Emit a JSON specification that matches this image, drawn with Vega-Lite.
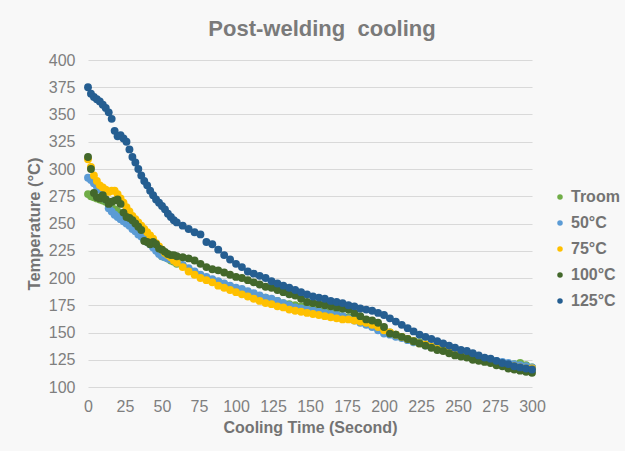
{
  "$schema": "https://vega.github.io/schema/vega-lite/v6.json",
  "width": 444,
  "height": 327,
  "autosize": {"type": "none"},
  "padding": {"left": 88, "top": 60, "right": 93, "bottom": 64},
  "background": "#f8f8f8",
  "config": {
    "font": "Liberation Sans",
    "view": {"stroke": null}
  },
  "title": {
    "text": "Post-welding\u00a0 cooling",
    "fontSize": 22,
    "fontWeight": "bold",
    "color": "#7a7a7a",
    "anchor": "middle",
    "offset": 11,
    "dx": 12
  },
  "data": {
    "values": [
      {"series":"Troom","time":0,"temp":277},{"series":"Troom","time":2,"temp":275},{"series":"Troom","time":4,"temp":274},{"series":"Troom","time":6,"temp":273},{"series":"Troom","time":8,"temp":272},{"series":"Troom","time":10,"temp":271},{"series":"Troom","time":12,"temp":270},{"series":"Troom","time":14,"temp":267},{"series":"Troom","time":16,"temp":265},{"series":"Troom","time":18,"temp":263},{"series":"Troom","time":20,"temp":261},{"series":"Troom","time":22,"temp":259},{"series":"Troom","time":24,"temp":256},{"series":"Troom","time":26,"temp":254},{"series":"Troom","time":28,"temp":252},{"series":"Troom","time":30,"temp":250},{"series":"Troom","time":32,"temp":247},{"series":"Troom","time":34,"temp":245},{"series":"Troom","time":36,"temp":242},{"series":"Troom","time":38,"temp":240},{"series":"Troom","time":40,"temp":237},{"series":"Troom","time":42,"temp":234},{"series":"Troom","time":44,"temp":231},{"series":"Troom","time":46,"temp":228},{"series":"Troom","time":48,"temp":223},{"series":"Troom","time":50,"temp":220},{"series":"Troom","time":52,"temp":219},{"series":"Troom","time":54,"temp":218},{"series":"Troom","time":56,"temp":216},{"series":"Troom","time":58,"temp":215},{"series":"Troom","time":60,"temp":213},{"series":"Troom","time":64,"temp":211},{"series":"Troom","time":68,"temp":208},{"series":"Troom","time":72,"temp":205},{"series":"Troom","time":76,"temp":202},{"series":"Troom","time":80,"temp":200},{"series":"Troom","time":84,"temp":198},{"series":"Troom","time":88,"temp":196},{"series":"Troom","time":92,"temp":194},{"series":"Troom","time":96,"temp":192},{"series":"Troom","time":100,"temp":190},{"series":"Troom","time":104,"temp":189},{"series":"Troom","time":108,"temp":187},{"series":"Troom","time":112,"temp":185},{"series":"Troom","time":116,"temp":183},{"series":"Troom","time":120,"temp":182},{"series":"Troom","time":124,"temp":180},{"series":"Troom","time":128,"temp":179},{"series":"Troom","time":132,"temp":177},{"series":"Troom","time":136,"temp":176},{"series":"Troom","time":140,"temp":175},{"series":"Troom","time":144,"temp":174},{"series":"Troom","time":148,"temp":172},{"series":"Troom","time":152,"temp":171},{"series":"Troom","time":156,"temp":170},{"series":"Troom","time":160,"temp":169},{"series":"Troom","time":164,"temp":168},{"series":"Troom","time":168,"temp":167},{"series":"Troom","time":172,"temp":165},{"series":"Troom","time":176,"temp":164},{"series":"Troom","time":180,"temp":163},{"series":"Troom","time":184,"temp":161},{"series":"Troom","time":188,"temp":159},{"series":"Troom","time":192,"temp":157},{"series":"Troom","time":196,"temp":155},{"series":"Troom","time":200,"temp":152},{"series":"Troom","time":204,"temp":150},{"series":"Troom","time":208,"temp":148},{"series":"Troom","time":212,"temp":146},{"series":"Troom","time":216,"temp":144},{"series":"Troom","time":220,"temp":142},{"series":"Troom","time":224,"temp":141},{"series":"Troom","time":228,"temp":139},{"series":"Troom","time":232,"temp":137},{"series":"Troom","time":236,"temp":136},{"series":"Troom","time":240,"temp":134},{"series":"Troom","time":244,"temp":133},{"series":"Troom","time":248,"temp":131},{"series":"Troom","time":252,"temp":130},{"series":"Troom","time":256,"temp":129},{"series":"Troom","time":260,"temp":128},{"series":"Troom","time":264,"temp":126},{"series":"Troom","time":268,"temp":125},{"series":"Troom","time":272,"temp":124},{"series":"Troom","time":276,"temp":123},{"series":"Troom","time":280,"temp":122},{"series":"Troom","time":284,"temp":121},{"series":"Troom","time":288,"temp":121},{"series":"Troom","time":292,"temp":122},{"series":"Troom","time":296,"temp":120},{"series":"Troom","time":300,"temp":118},

      {"series":"50°C","time":0,"temp":292},{"series":"50°C","time":2,"temp":290},{"series":"50°C","time":4,"temp":287},{"series":"50°C","time":6,"temp":284},{"series":"50°C","time":8,"temp":281},{"series":"50°C","time":10,"temp":277},{"series":"50°C","time":12,"temp":272},{"series":"50°C","time":14,"temp":264},{"series":"50°C","time":16,"temp":261},{"series":"50°C","time":18,"temp":258},{"series":"50°C","time":20,"temp":256},{"series":"50°C","time":22,"temp":254},{"series":"50°C","time":24,"temp":252},{"series":"50°C","time":26,"temp":250},{"series":"50°C","time":28,"temp":248},{"series":"50°C","time":30,"temp":245},{"series":"50°C","time":32,"temp":243},{"series":"50°C","time":34,"temp":240},{"series":"50°C","time":36,"temp":238},{"series":"50°C","time":38,"temp":235},{"series":"50°C","time":40,"temp":233},{"series":"50°C","time":42,"temp":231},{"series":"50°C","time":44,"temp":228},{"series":"50°C","time":46,"temp":225},{"series":"50°C","time":48,"temp":222},{"series":"50°C","time":50,"temp":220},{"series":"50°C","time":52,"temp":219},{"series":"50°C","time":54,"temp":218},{"series":"50°C","time":56,"temp":217},{"series":"50°C","time":58,"temp":216},{"series":"50°C","time":60,"temp":214},{"series":"50°C","time":64,"temp":212},{"series":"50°C","time":68,"temp":209},{"series":"50°C","time":72,"temp":206},{"series":"50°C","time":76,"temp":203},{"series":"50°C","time":80,"temp":201},{"series":"50°C","time":84,"temp":199},{"series":"50°C","time":88,"temp":197},{"series":"50°C","time":92,"temp":195},{"series":"50°C","time":96,"temp":193},{"series":"50°C","time":100,"temp":191},{"series":"50°C","time":104,"temp":190},{"series":"50°C","time":108,"temp":188},{"series":"50°C","time":112,"temp":186},{"series":"50°C","time":116,"temp":184},{"series":"50°C","time":120,"temp":182},{"series":"50°C","time":124,"temp":181},{"series":"50°C","time":128,"temp":179},{"series":"50°C","time":132,"temp":177},{"series":"50°C","time":136,"temp":175},{"series":"50°C","time":140,"temp":173},{"series":"50°C","time":144,"temp":172},{"series":"50°C","time":148,"temp":171},{"series":"50°C","time":152,"temp":170},{"series":"50°C","time":156,"temp":169},{"series":"50°C","time":160,"temp":168},{"series":"50°C","time":164,"temp":167},{"series":"50°C","time":168,"temp":166},{"series":"50°C","time":172,"temp":165},{"series":"50°C","time":176,"temp":163},{"series":"50°C","time":180,"temp":161},{"series":"50°C","time":184,"temp":159},{"series":"50°C","time":188,"temp":157},{"series":"50°C","time":192,"temp":155},{"series":"50°C","time":196,"temp":152},{"series":"50°C","time":200,"temp":149},{"series":"50°C","time":204,"temp":148},{"series":"50°C","time":208,"temp":146},{"series":"50°C","time":212,"temp":145},{"series":"50°C","time":216,"temp":143},{"series":"50°C","time":220,"temp":141},{"series":"50°C","time":224,"temp":140},{"series":"50°C","time":228,"temp":138},{"series":"50°C","time":232,"temp":137},{"series":"50°C","time":236,"temp":135},{"series":"50°C","time":240,"temp":134},{"series":"50°C","time":244,"temp":133},{"series":"50°C","time":248,"temp":131},{"series":"50°C","time":252,"temp":130},{"series":"50°C","time":256,"temp":129},{"series":"50°C","time":260,"temp":128},{"series":"50°C","time":264,"temp":127},{"series":"50°C","time":268,"temp":126},{"series":"50°C","time":272,"temp":125},{"series":"50°C","time":276,"temp":124},{"series":"50°C","time":280,"temp":123},{"series":"50°C","time":284,"temp":122},{"series":"50°C","time":288,"temp":121},{"series":"50°C","time":292,"temp":120},{"series":"50°C","time":296,"temp":119},{"series":"50°C","time":300,"temp":118},

      {"series":"75°C","time":0,"temp":309},{"series":"75°C","time":2,"temp":302},{"series":"75°C","time":4,"temp":294},{"series":"75°C","time":6,"temp":289},{"series":"75°C","time":8,"temp":285},{"series":"75°C","time":10,"temp":283},{"series":"75°C","time":12,"temp":281},{"series":"75°C","time":14,"temp":279},{"series":"75°C","time":16,"temp":280},{"series":"75°C","time":18,"temp":280},{"series":"75°C","time":20,"temp":277},{"series":"75°C","time":22,"temp":273},{"series":"75°C","time":24,"temp":269},{"series":"75°C","time":26,"temp":265},{"series":"75°C","time":28,"temp":261},{"series":"75°C","time":30,"temp":257},{"series":"75°C","time":32,"temp":254},{"series":"75°C","time":34,"temp":251},{"series":"75°C","time":36,"temp":248},{"series":"75°C","time":38,"temp":245},{"series":"75°C","time":40,"temp":242},{"series":"75°C","time":42,"temp":239},{"series":"75°C","time":44,"temp":236},{"series":"75°C","time":46,"temp":232},{"series":"75°C","time":48,"temp":229},{"series":"75°C","time":50,"temp":226},{"series":"75°C","time":52,"temp":223},{"series":"75°C","time":54,"temp":221},{"series":"75°C","time":56,"temp":219},{"series":"75°C","time":58,"temp":216},{"series":"75°C","time":60,"temp":214},{"series":"75°C","time":64,"temp":210},{"series":"75°C","time":68,"temp":206},{"series":"75°C","time":72,"temp":203},{"series":"75°C","time":76,"temp":200},{"series":"75°C","time":80,"temp":198},{"series":"75°C","time":84,"temp":196},{"series":"75°C","time":88,"temp":193},{"series":"75°C","time":92,"temp":191},{"series":"75°C","time":96,"temp":189},{"series":"75°C","time":100,"temp":187},{"series":"75°C","time":104,"temp":185},{"series":"75°C","time":108,"temp":183},{"series":"75°C","time":112,"temp":181},{"series":"75°C","time":116,"temp":179},{"series":"75°C","time":120,"temp":177},{"series":"75°C","time":124,"temp":176},{"series":"75°C","time":128,"temp":174},{"series":"75°C","time":132,"temp":173},{"series":"75°C","time":136,"temp":171},{"series":"75°C","time":140,"temp":170},{"series":"75°C","time":144,"temp":169},{"series":"75°C","time":148,"temp":168},{"series":"75°C","time":152,"temp":167},{"series":"75°C","time":156,"temp":166},{"series":"75°C","time":160,"temp":165},{"series":"75°C","time":164,"temp":164},{"series":"75°C","time":168,"temp":163},{"series":"75°C","time":172,"temp":162},{"series":"75°C","time":176,"temp":162},{"series":"75°C","time":180,"temp":161},{"series":"75°C","time":184,"temp":160},{"series":"75°C","time":188,"temp":159},{"series":"75°C","time":192,"temp":157},{"series":"75°C","time":196,"temp":155},{"series":"75°C","time":200,"temp":152},{"series":"75°C","time":204,"temp":150},{"series":"75°C","time":208,"temp":148},{"series":"75°C","time":212,"temp":146},{"series":"75°C","time":216,"temp":144},{"series":"75°C","time":220,"temp":142},{"series":"75°C","time":224,"temp":140},{"series":"75°C","time":228,"temp":139},{"series":"75°C","time":232,"temp":137},{"series":"75°C","time":236,"temp":135},{"series":"75°C","time":240,"temp":134},{"series":"75°C","time":244,"temp":132},{"series":"75°C","time":248,"temp":131},{"series":"75°C","time":252,"temp":129},{"series":"75°C","time":256,"temp":128},{"series":"75°C","time":260,"temp":127},{"series":"75°C","time":264,"temp":126},{"series":"75°C","time":268,"temp":124},{"series":"75°C","time":272,"temp":123},{"series":"75°C","time":276,"temp":122},{"series":"75°C","time":280,"temp":121},{"series":"75°C","time":284,"temp":120},{"series":"75°C","time":288,"temp":119},{"series":"75°C","time":292,"temp":118},{"series":"75°C","time":296,"temp":117},{"series":"75°C","time":300,"temp":117},

      {"series":"100°C","time":0,"temp":311},{"series":"100°C","time":2,"temp":300},{"series":"100°C","time":4,"temp":278},{"series":"100°C","time":6,"temp":274},{"series":"100°C","time":8,"temp":273},{"series":"100°C","time":10,"temp":276},{"series":"100°C","time":12,"temp":272},{"series":"100°C","time":14,"temp":268},{"series":"100°C","time":16,"temp":270},{"series":"100°C","time":18,"temp":271},{"series":"100°C","time":20,"temp":272},{"series":"100°C","time":22,"temp":268},{"series":"100°C","time":24,"temp":260},{"series":"100°C","time":26,"temp":256},{"series":"100°C","time":28,"temp":255},{"series":"100°C","time":30,"temp":253},{"series":"100°C","time":32,"temp":250},{"series":"100°C","time":34,"temp":247},{"series":"100°C","time":36,"temp":244},{"series":"100°C","time":38,"temp":234},{"series":"100°C","time":40,"temp":233},{"series":"100°C","time":42,"temp":231},{"series":"100°C","time":44,"temp":233},{"series":"100°C","time":46,"temp":231},{"series":"100°C","time":48,"temp":227},{"series":"100°C","time":50,"temp":226},{"series":"100°C","time":52,"temp":224},{"series":"100°C","time":54,"temp":222},{"series":"100°C","time":56,"temp":221},{"series":"100°C","time":58,"temp":221},{"series":"100°C","time":60,"temp":220},{"series":"100°C","time":64,"temp":219},{"series":"100°C","time":68,"temp":218},{"series":"100°C","time":72,"temp":216},{"series":"100°C","time":76,"temp":213},{"series":"100°C","time":80,"temp":210},{"series":"100°C","time":84,"temp":208},{"series":"100°C","time":88,"temp":207},{"series":"100°C","time":92,"temp":205},{"series":"100°C","time":96,"temp":203},{"series":"100°C","time":100,"temp":201},{"series":"100°C","time":104,"temp":200},{"series":"100°C","time":108,"temp":198},{"series":"100°C","time":112,"temp":196},{"series":"100°C","time":116,"temp":194},{"series":"100°C","time":120,"temp":192},{"series":"100°C","time":124,"temp":191},{"series":"100°C","time":128,"temp":189},{"series":"100°C","time":132,"temp":187},{"series":"100°C","time":136,"temp":185},{"series":"100°C","time":140,"temp":184},{"series":"100°C","time":144,"temp":181},{"series":"100°C","time":148,"temp":178},{"series":"100°C","time":152,"temp":177},{"series":"100°C","time":156,"temp":176},{"series":"100°C","time":160,"temp":175},{"series":"100°C","time":164,"temp":174},{"series":"100°C","time":168,"temp":173},{"series":"100°C","time":172,"temp":172},{"series":"100°C","time":176,"temp":171},{"series":"100°C","time":180,"temp":168},{"series":"100°C","time":184,"temp":165},{"series":"100°C","time":188,"temp":162},{"series":"100°C","time":192,"temp":161},{"series":"100°C","time":196,"temp":159},{"series":"100°C","time":200,"temp":155},{"series":"100°C","time":204,"temp":149},{"series":"100°C","time":208,"temp":148},{"series":"100°C","time":212,"temp":146},{"series":"100°C","time":216,"temp":144},{"series":"100°C","time":220,"temp":142},{"series":"100°C","time":224,"temp":140},{"series":"100°C","time":228,"temp":138},{"series":"100°C","time":232,"temp":136},{"series":"100°C","time":236,"temp":134},{"series":"100°C","time":240,"temp":133},{"series":"100°C","time":244,"temp":131},{"series":"100°C","time":248,"temp":129},{"series":"100°C","time":252,"temp":128},{"series":"100°C","time":256,"temp":127},{"series":"100°C","time":260,"temp":125},{"series":"100°C","time":264,"temp":124},{"series":"100°C","time":268,"temp":123},{"series":"100°C","time":272,"temp":122},{"series":"100°C","time":276,"temp":120},{"series":"100°C","time":280,"temp":119},{"series":"100°C","time":284,"temp":117},{"series":"100°C","time":288,"temp":116},{"series":"100°C","time":292,"temp":115},{"series":"100°C","time":296,"temp":114},{"series":"100°C","time":300,"temp":113},

      {"series":"125°C","time":0,"temp":375},{"series":"125°C","time":2,"temp":369},{"series":"125°C","time":4,"temp":366},{"series":"125°C","time":6,"temp":364},{"series":"125°C","time":8,"temp":362},{"series":"125°C","time":10,"temp":359},{"series":"125°C","time":12,"temp":356},{"series":"125°C","time":14,"temp":352},{"series":"125°C","time":16,"temp":346},{"series":"125°C","time":18,"temp":335},{"series":"125°C","time":20,"temp":330},{"series":"125°C","time":22,"temp":331},{"series":"125°C","time":24,"temp":328},{"series":"125°C","time":26,"temp":325},{"series":"125°C","time":28,"temp":318},{"series":"125°C","time":30,"temp":311},{"series":"125°C","time":32,"temp":306},{"series":"125°C","time":34,"temp":300},{"series":"125°C","time":36,"temp":294},{"series":"125°C","time":38,"temp":289},{"series":"125°C","time":40,"temp":285},{"series":"125°C","time":42,"temp":280},{"series":"125°C","time":44,"temp":276},{"series":"125°C","time":46,"temp":272},{"series":"125°C","time":48,"temp":269},{"series":"125°C","time":50,"temp":266},{"series":"125°C","time":52,"temp":263},{"series":"125°C","time":54,"temp":259},{"series":"125°C","time":56,"temp":256},{"series":"125°C","time":58,"temp":253},{"series":"125°C","time":60,"temp":251},{"series":"125°C","time":64,"temp":248},{"series":"125°C","time":68,"temp":245},{"series":"125°C","time":72,"temp":242},{"series":"125°C","time":76,"temp":240},{"series":"125°C","time":80,"temp":233},{"series":"125°C","time":84,"temp":231},{"series":"125°C","time":88,"temp":226},{"series":"125°C","time":92,"temp":221},{"series":"125°C","time":96,"temp":217},{"series":"125°C","time":100,"temp":213},{"series":"125°C","time":104,"temp":210},{"series":"125°C","time":108,"temp":206},{"series":"125°C","time":112,"temp":204},{"series":"125°C","time":116,"temp":202},{"series":"125°C","time":120,"temp":200},{"series":"125°C","time":124,"temp":197},{"series":"125°C","time":128,"temp":195},{"series":"125°C","time":132,"temp":193},{"series":"125°C","time":136,"temp":191},{"series":"125°C","time":140,"temp":189},{"series":"125°C","time":144,"temp":187},{"series":"125°C","time":148,"temp":185},{"series":"125°C","time":152,"temp":183},{"series":"125°C","time":156,"temp":182},{"series":"125°C","time":160,"temp":181},{"series":"125°C","time":164,"temp":179},{"series":"125°C","time":168,"temp":178},{"series":"125°C","time":172,"temp":177},{"series":"125°C","time":176,"temp":175},{"series":"125°C","time":180,"temp":174},{"series":"125°C","time":184,"temp":172},{"series":"125°C","time":188,"temp":171},{"series":"125°C","time":192,"temp":170},{"series":"125°C","time":196,"temp":168},{"series":"125°C","time":200,"temp":166},{"series":"125°C","time":204,"temp":163},{"series":"125°C","time":208,"temp":160},{"series":"125°C","time":212,"temp":157},{"series":"125°C","time":216,"temp":154},{"series":"125°C","time":220,"temp":151},{"series":"125°C","time":224,"temp":148},{"series":"125°C","time":228,"temp":146},{"series":"125°C","time":232,"temp":144},{"series":"125°C","time":236,"temp":142},{"series":"125°C","time":240,"temp":140},{"series":"125°C","time":244,"temp":138},{"series":"125°C","time":248,"temp":136},{"series":"125°C","time":252,"temp":134},{"series":"125°C","time":256,"temp":133},{"series":"125°C","time":260,"temp":131},{"series":"125°C","time":264,"temp":129},{"series":"125°C","time":268,"temp":127},{"series":"125°C","time":272,"temp":126},{"series":"125°C","time":276,"temp":124},{"series":"125°C","time":280,"temp":122},{"series":"125°C","time":284,"temp":121},{"series":"125°C","time":288,"temp":119},{"series":"125°C","time":292,"temp":118},{"series":"125°C","time":296,"temp":117},{"series":"125°C","time":300,"temp":116}
    ]
  },
  "mark": {"type": "circle", "size": 62, "opacity": 1},
  "encoding": {
    "x": {
      "field": "time",
      "type": "quantitative",
      "scale": {"domain": [0, 300], "nice": false},
      "axis": {
        "title": "Cooling Time (Second)",
        "values": [0,25,50,75,100,125,150,175,200,225,250,275,300],
        "labelOverlap": false,
        "grid": false,
        "domain": false,
        "ticks": false,
        "labelPadding": 11,
        "labelFontSize": 16,
        "labelColor": "#7f7f7f",
        "labelFlush": false,
        "titleFontSize": 16,
        "titleFontWeight": "bold",
        "titleColor": "#737373",
        "titlePadding": 5
      }
    },
    "y": {
      "field": "temp",
      "type": "quantitative",
      "scale": {"domain": [100, 400], "nice": false, "zero": false},
      "axis": {
        "title": "Temperature (°C)",
        "values": [100,125,150,175,200,225,250,275,300,325,350,375,400],
        "labelOverlap": false,
        "grid": true,
        "gridColor": "#d9d9d9",
        "gridWidth": 1,
        "domain": false,
        "ticks": false,
        "labelPadding": 13,
        "labelFontSize": 16,
        "labelColor": "#7f7f7f",
        "titleFontSize": 16.5,
        "titleFontWeight": "bold",
        "titleColor": "#737373",
        "titlePadding": 6
      }
    },
    "color": {
      "field": "series",
      "type": "nominal",
      "scale": {
        "domain": ["Troom", "50°C", "75°C", "100°C", "125°C"],
        "range": ["#70AD47", "#5B9BD5", "#FFC000", "#43682B", "#255E91"]
      },
      "legend": {
        "title": null,
        "orient": "none",
        "legendX": 464,
        "legendY": 129,
        "symbolType": "circle",
        "symbolSize": 30,
        "labelFontSize": 16,
        "labelFontWeight": "bold",
        "labelColor": "#737373",
        "labelOffset": 3,
        "rowPadding": 10,
        "padding": 0
      }
    }
  }
}
